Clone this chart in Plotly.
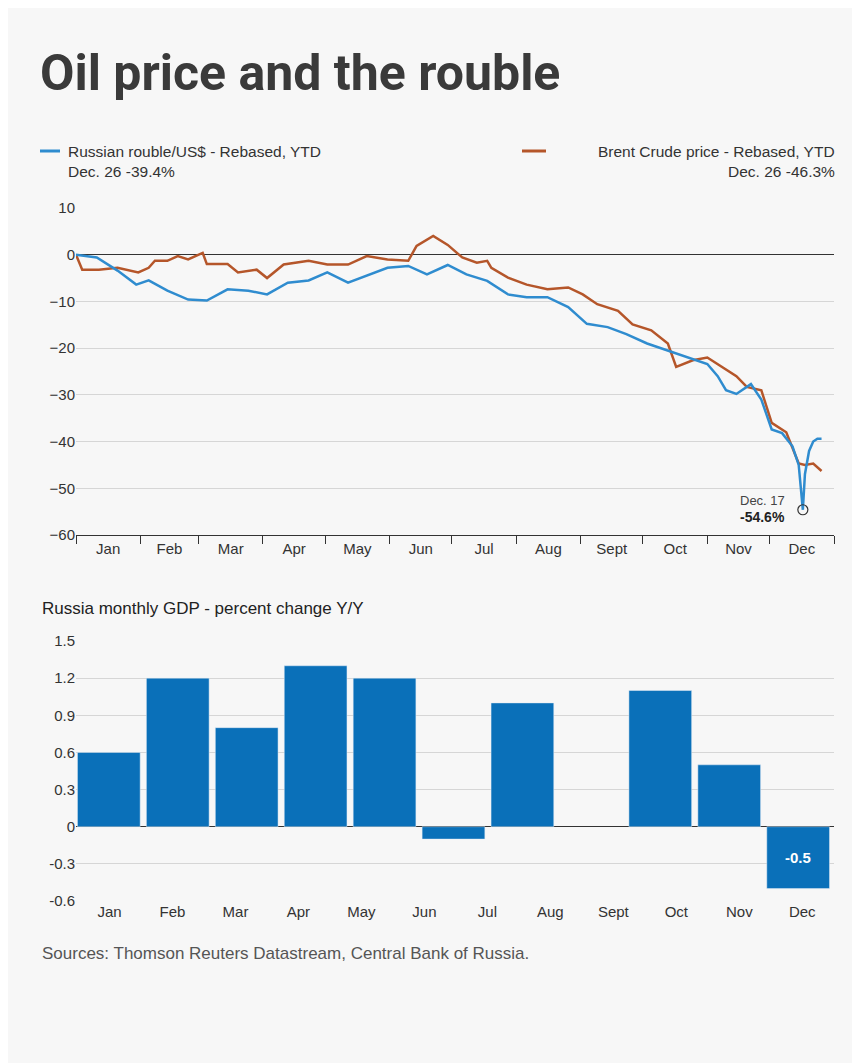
import numpy as np
import plotly.graph_objects as go

# Top chart: day of year 2014, rebased YTD %
rouble_day = [0, 10, 20, 29, 35, 44, 54, 63, 73, 83, 92, 102, 112, 121, 131, 140, 150, 160, 169, 179,
              188, 198, 208, 217, 227, 237, 246, 256, 265, 275, 285, 294, 304, 309, 313, 318, 325, 330,
              335, 340, 345, 348, 350, 351, 353, 355, 357, 359]
rouble_val = [0, -0.6, -3.4, -6.4, -5.5, -7.7, -9.6, -9.8, -7.4, -7.7, -8.5, -6.0, -5.5, -3.8, -6.0, -4.5,
              -2.8, -2.4, -4.2, -2.2, -4.2, -5.6, -8.5, -9.1, -9.1, -11.2, -14.8, -15.5, -17, -19, -20.5,
              -22, -23.4, -26, -29, -29.8, -27.7, -31, -37.4, -38.2, -41, -45, -54.6, -47, -42, -40,
              -39.4, -39.4]
brent_day = [0, 3, 11, 20, 30, 35, 38, 44, 49, 54, 61, 63, 73, 78, 87, 92, 100, 112, 121, 131, 140, 150,
             160, 164, 172, 179, 186, 193, 198, 200, 208, 217, 227, 237, 244, 251, 261, 268, 277, 285,
             289, 297, 304, 311, 318, 323, 330, 335, 342, 348, 351, 355, 359]
brent_val = [0, -3.2, -3.2, -2.8, -3.8, -2.8, -1.3, -1.3, -0.3, -1.0, 0.4, -2.0, -2.0, -3.8, -3.2, -5.0,
             -2.1, -1.3, -2.1, -2.1, -0.3, -1.0, -1.3, 1.9, 4.0, 2.1, -0.6, -1.7, -1.3, -2.8, -4.9, -6.4,
             -7.4, -7.0, -8.5, -10.6, -12.0, -14.9, -16.2, -19, -24, -22.6, -22, -24, -26, -28.3, -29,
             -36, -38, -44.7, -45, -44.7, -46.3]
month_labels = ["Jan", "Feb", "Mar", "Apr", "May", "Jun", "Jul", "Aug", "Sept", "Oct", "Nov", "Dec"]
month_starts = [0, 31, 59, 90, 120, 151, 181, 212, 243, 273, 304, 334, 365]

# Bottom chart: GDP y/y (slot 7 empty)
gdp_val = [0.6, 1.2, 0.8, 1.3, 1.2, -0.1, 1.0, None, 1.1, 0.5, -0.5]

BLUE = "#2f8ccf"
ORANGE = "#b5562a"
BAR = "#0a70b9"
FONT = "Liberation Sans, Arial, sans-serif"

L, R, T, B = 68, 826, 200, 893
W, H = 860, 1063


def px(x):
    return (x - L) / (R - L)


def py(y):
    return (B - y) / (B - T)


fig = go.Figure()
fig.add_trace(go.Scatter(x=brent_day, y=brent_val, mode="lines", line=dict(color=ORANGE, width=2.5),
                         xaxis="x", yaxis="y"))
fig.add_trace(go.Scatter(x=rouble_day, y=rouble_val, mode="lines", line=dict(color=BLUE, width=2.5),
                         xaxis="x", yaxis="y"))
fig.add_trace(go.Scatter(x=[350], y=[-54.6], mode="markers",
                         marker=dict(symbol="circle-open", size=10, color="#333", line=dict(width=1.2)),
                         xaxis="x", yaxis="y"))
slots = list(range(len(gdp_val)))
fig.add_trace(go.Bar(x=slots, y=gdp_val, marker_color=BAR, width=0.91, xaxis="x2", yaxis="y2"))

mid = [(month_starts[i] + month_starts[i + 1]) / 2 for i in range(12)]
top_dom = [(B - 527) / (B - T), 1]
bot_dom = [0, (B - 633) / (B - T)]

fig.update_layout(
    width=W, height=H, showlegend=False,
    paper_bgcolor="#f7f7f7", plot_bgcolor="#f7f7f7",
    margin=dict(l=L, r=W - R, t=T, b=H - B),
    font=dict(family=FONT, size=15, color="#333"),
    xaxis=dict(domain=[0, 1], range=[0, 365], tickvals=mid, ticktext=month_labels, ticks="",
               showgrid=False, zeroline=False, showline=True, linecolor="#333",
               anchor="y", tickfont=dict(size=15),
               minor=dict(tickvals=month_starts, ticks="outside", ticklen=8, tickcolor="#333",
                          showgrid=False)),
    yaxis=dict(domain=top_dom, range=[-60, 10], tickvals=list(range(-60, 11, 10)),
               gridcolor="#d6d6d6", zeroline=True, zerolinecolor="#333", zerolinewidth=1,
               ticks="", anchor="x"),
    xaxis2=dict(domain=[0, 1], range=[-0.476, 10.52], anchor="y2",
                tickvals=list(np.linspace(0.01, 10.06, 12)), ticktext=month_labels,
                ticks="", showgrid=False, zeroline=False),
    yaxis2=dict(domain=bot_dom, range=[-0.6, 1.5], tickvals=[1.5, 1.2, 0.9, 0.6, 0.3, 0, -0.3, -0.6],
                ticktext=["1.5", "1.2", "0.9", "0.6", "0.3", "0", "-0.3", "-0.6"],
                gridcolor="#d6d6d6", zeroline=True, zerolinecolor="#333", zerolinewidth=1,
                ticks="", anchor="x2"),
)

fig.add_shape(type="line", xref="paper", yref="paper", x0=px(32), x1=px(52), y0=py(143), y1=py(143),
              line=dict(color=BLUE, width=3))
fig.add_shape(type="line", xref="paper", yref="paper", x0=px(514), x1=px(538), y0=py(143), y1=py(143),
              line=dict(color=ORANGE, width=3))


def note(x, y, text, size=15, anchor="left", color="#333", **kw):
    fig.add_annotation(xref="paper", yref="paper", x=px(x), y=py(y), text=text, showarrow=False,
                       xanchor=anchor, yanchor="middle", font=dict(size=size, color=color, **kw))


note(30, 65, "<b>Oil price and the rouble</b>", size=50, color="#3a3a3a",
     family="Liberation Sans Narrow, Roboto, sans-serif")
note(58, 143, "Russian rouble/US$ - Rebased, YTD", size=15.5)
note(58, 163, "Dec. 26 -39.4%", size=15.5)
note(829, 143, "Brent Crude price - Rebased, YTD", size=15.5, anchor="right")
note(829, 163, "Dec. 26 -46.3%", size=15.5, anchor="right")
note(779, 492, "Dec. 17", size=13, anchor="right", color="#444")
note(779, 509, "<b>-54.6%</b>", size=14, anchor="right", color="#222")
note(32, 600, "Russia monthly GDP - percent change Y/Y", size=17, color="#222")
note(32, 945, "Sources: Thomson Reuters Datastream, Central Bank of Russia.", size=17, color="#555")
fig.add_annotation(x=10, y=-0.25, xref="x2", yref="y2", text="<b>-0.5</b>", showarrow=False,
                   font=dict(size=15, color="white"))

fig.write_html("out.html")
